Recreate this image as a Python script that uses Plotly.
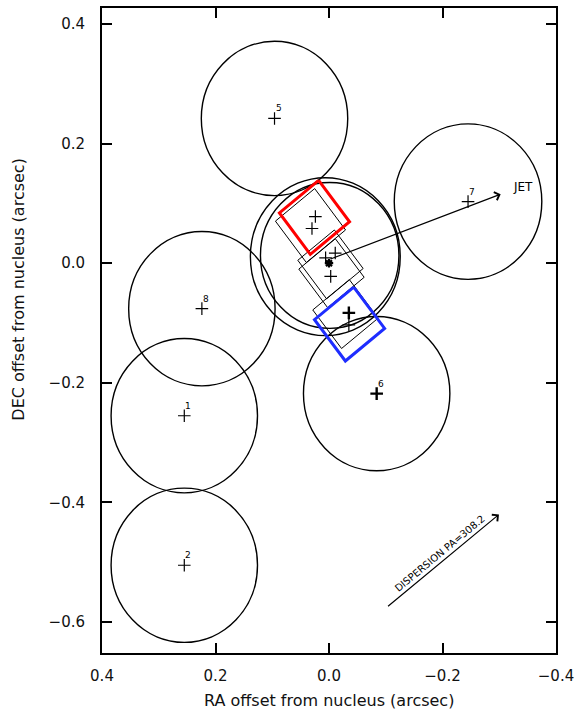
import math
import plotly.graph_objects as go

# ---------------- data (arcsec offsets from nucleus) ----------------
# Numbered field apertures (circles centred on a cross)
field_labels = ["1", "2", "5", "6", "7", "8"]
field_ra = [0.255, 0.255, 0.096, -0.084, -0.245, 0.224]
field_dec = [-0.255, -0.505, 0.242, -0.218, 0.103, -0.076]
field_radius = [0.129, 0.129, 0.129, 0.129, 0.130, 0.129]
field_bold = [False, False, False, True, False, False]

# Central (nuclear) circles
core_circle_ra = [0.0065, -0.0012]
core_circle_dec = [0.011, 0.013]
core_circle_radius = [0.132, 0.122]

# Slit apertures (squares aligned with dispersion direction)
slit_ra = [0.0326, -0.0026, -0.0044, -0.029, 0.0256, -0.0362]
slit_dec = [0.063, -0.002, -0.0167, -0.085, 0.0767, -0.1017]
slit_size = [0.088, 0.082, 0.082, 0.082, 0.088, 0.088]
slit_color = ["black", "black", "black", "black", "rgb(255,0,0)", "rgb(30,45,255)"]
slit_width = [1, 1, 1, 1, 3, 3]
dispersion_pa = 308.2

# Crosses inside the nuclear region
core_ra = [0.024, 0.030, -0.011, 0.006, -0.003, -0.035, -0.035]
core_dec = [0.078, 0.058, 0.017, 0.009, -0.022, -0.083, -0.103]
core_bold = [False, False, False, False, False, True, False]
nucleus_ra = [0.0]
nucleus_dec = [0.0]

# Jet arrow and dispersion arrow (tail -> head)
jet_tail = (0.0, 0.006)
jet_head = (-0.3025, 0.1155)
jet_label_pos = (-0.341, 0.128)
disp_tail = (-0.1014, -0.5755)
disp_head = (-0.2995, -0.420)
disp_label_pos = (-0.195, -0.485)
disp_label = "DISPERSION PA=308.2"

x_range = [0.4, -0.4]
y_range = [-0.6517, 0.4267]
x_ticks = [0.4, 0.2, 0.0, -0.2, -0.4]
y_ticks = [0.4, 0.2, 0.0, -0.2, -0.4, -0.6]

FONT = "DejaVu Sans"

fig = go.Figure()

# circles
for ra, dec, r in zip(field_ra + core_circle_ra, field_dec + core_circle_dec,
                      field_radius + core_circle_radius):
    fig.add_shape(type="circle", xref="x", yref="y",
                  x0=ra - r, x1=ra + r, y0=dec - r, y1=dec + r,
                  line=dict(color="black", width=1.4), layer="below")

# slit squares
pa = math.radians(dispersion_pa)
u = (math.sin(pa), math.cos(pa))
v = (math.cos(pa), -math.sin(pa))
for cx, cy, s, col, w in zip(slit_ra, slit_dec, slit_size, slit_color, slit_width):
    h = s / 2.0
    xs, ys = [], []
    for a, b in [(1, 1), (1, -1), (-1, -1), (-1, 1), (1, 1)]:
        xs.append(cx + h * (a * u[0] + b * v[0]))
        ys.append(cy + h * (a * u[1] + b * v[1]))
    fig.add_trace(go.Scatter(x=xs, y=ys, mode="lines",
                             line=dict(color=col, width=w),
                             hoverinfo="skip", showlegend=False))

# crosses
def add_crosses(xs, ys, bold):
    for x, y, b in zip(xs, ys, bold):
        fig.add_trace(go.Scatter(
            x=[x], y=[y], mode="markers",
            marker=dict(symbol="cross-thin", size=9, color="black",
                        line=dict(color="black", width=2.4 if b else 1.2)),
            hoverinfo="skip", showlegend=False))

add_crosses(field_ra, field_dec, field_bold)
add_crosses(core_ra, core_dec, core_bold)
fig.add_trace(go.Scatter(x=nucleus_ra, y=nucleus_dec, mode="markers",
                         marker=dict(symbol="asterisk-open", size=7, color="black",
                                     line=dict(color="black", width=2.2)),
                         hoverinfo="skip", showlegend=False))

# numeric labels
for lab, x, y in zip(field_labels, field_ra, field_dec):
    fig.add_annotation(x=x, y=y, xref="x", yref="y", text=lab, showarrow=False,
                       xshift=4, yshift=10, font=dict(family=FONT, size=9, color="black"))

# arrows
for tail, head in [(jet_tail, jet_head), (disp_tail, disp_head)]:
    fig.add_annotation(x=head[0], y=head[1], ax=tail[0], ay=tail[1],
                       xref="x", yref="y", axref="x", ayref="y", text="",
                       showarrow=True, arrowhead=4, arrowsize=1.4, arrowwidth=1.2,
                       arrowcolor="black", standoff=0, startstandoff=0)

fig.add_annotation(x=jet_label_pos[0], y=jet_label_pos[1], xref="x", yref="y",
                   text="JET", showarrow=False,
                   font=dict(family=FONT, size=12, color="black"))
fig.add_annotation(x=disp_label_pos[0], y=disp_label_pos[1], xref="x", yref="y",
                   text=disp_label, showarrow=False, textangle=-39.7,
                   font=dict(family=FONT, size=10, color="black"))

# axis titles
fig.add_annotation(x=0.5, y=-0.073, xref="paper", yref="paper",
                   text="RA offset from nucleus (arcsec)", showarrow=False,
                   xanchor="center", yanchor="middle",
                   font=dict(family=FONT, size=16, color="#111"))
fig.add_annotation(x=-0.184, y=0.564, xref="paper", yref="paper",
                   text="DEC offset from nucleus (arcsec)", showarrow=False,
                   textangle=-90, xanchor="center", yanchor="middle",
                   font=dict(family=FONT, size=16, color="#111"))

axis_common = dict(showgrid=False, zeroline=False, showline=True, linecolor="black",
                   linewidth=2, mirror="ticks", ticks="inside", ticklen=10,
                   tickwidth=1.5, tickcolor="black", tickformat=".1f",
                   tickfont=dict(family=FONT, size=15, color="#111"))
fig.update_xaxes(range=x_range, tickvals=x_ticks, ticklabelstandoff=8, **axis_common)
fig.update_yaxes(range=y_range, tickvals=y_ticks, ticklabelstandoff=12, **axis_common)

fig.update_layout(width=580, height=712, margin=dict(l=102, r=23, t=6, b=59),
                  plot_bgcolor="white", paper_bgcolor="white", showlegend=False)

fig.write_html("out.html", config={"displayModeBar": False},
               post_script="document.body.style.margin='0px';document.body.style.overflow='hidden';")
